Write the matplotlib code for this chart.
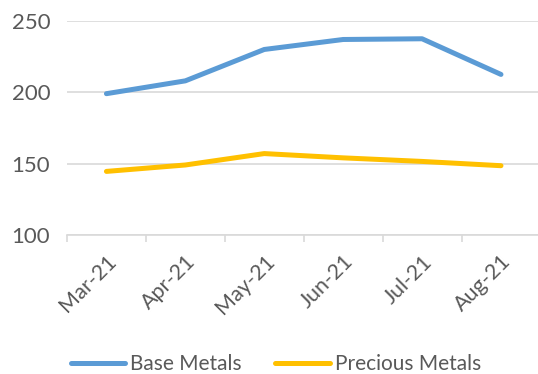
import numpy as np
import matplotlib.pyplot as plt

months = ["Mar-21", "Apr-21", "May-21", "Jun-21", "Jul-21", "Aug-21"]
base_metals = [199, 208, 230, 237, 237.5, 212.5]
precious_metals = [144.5, 149, 157, 154, 151.5, 148.5]

plt.rcParams['font.family'] = ['Lato', 'DejaVu Sans']

fig = plt.figure(figsize=(5.38, 3.74), dpi=100)
ax = fig.add_axes([0.1245, 0.372, 0.88, 0.572])

x = np.arange(len(months))
ax.plot(x, base_metals, color="#5B9BD5", lw=3.6, solid_capstyle="round",
        solid_joinstyle="round", label="Base Metals")
ax.plot(x, precious_metals, color="#FFC000", lw=3.6, solid_capstyle="round",
        solid_joinstyle="round", label="Precious Metals")

ax.set_ylim(100, 250)
ax.set_yticks([100, 150, 200, 250])
ax.set_xlim(-0.5, len(months) - 0.5)
ax.grid(axis="y", color="#D9D9D9", lw=1.2)
ax.set_axisbelow(True)

ax.set_xticks(x)
ax.set_xticklabels(months, rotation=45, ha="right", rotation_mode="anchor")
ax.set_xticks(np.arange(-0.5, len(months)), minor=True)
ax.tick_params(axis="x", which="major", length=0, pad=12, labelsize=15.5, labelcolor="#595959")
ax.tick_params(axis="x", which="minor", length=5, width=1.2, color="#D9D9D9")
ax.tick_params(axis="y", length=0, pad=12, labelsize=16, labelcolor="#595959")

for s in ["top", "right", "left"]:
    ax.spines[s].set_visible(False)
ax.spines["bottom"].set_color("#D9D9D9")
ax.spines["bottom"].set_linewidth(1.2)

fig.legend(loc="lower center", bbox_to_anchor=(0.513, -0.05), ncol=2, frameon=False,
           fontsize=15, handlelength=2.6, handletextpad=0.25, columnspacing=1.6,
           labelcolor="#595959")

fig.savefig("out.png", dpi=100)
